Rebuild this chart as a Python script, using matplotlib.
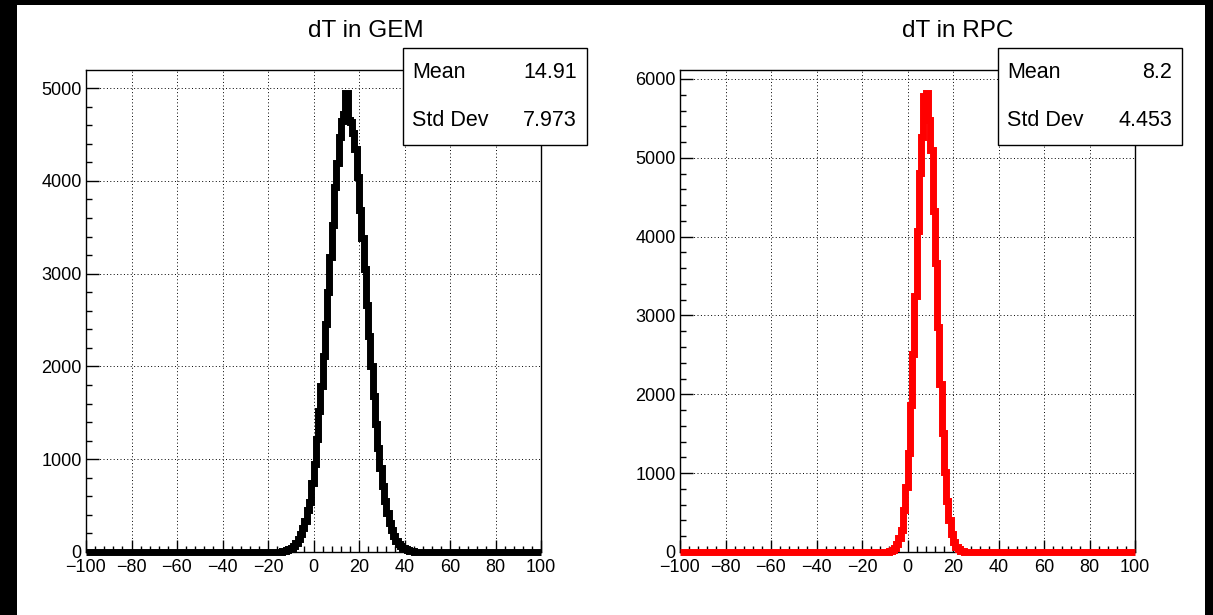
import numpy as np
import matplotlib
matplotlib.use("Agg")
import matplotlib.pyplot as plt
from matplotlib.patches import Rectangle
from matplotlib.ticker import MultipleLocator

plt.rcParams['font.family'] = ['Liberation Sans', 'DejaVu Sans']

# ---------------- data ----------------
x_range = (-100, 100)
n_bins = 200

titles = ["dT in GEM", "dT in RPC"]
colors = ["#000000", "#ff0000"]
stat_mean = ["14.91", "8.2"]
stat_std = ["7.973", "4.453"]

# GEM: counts for bins starting at -20 (each bin 1 unit wide)
gem_first_bin = -20
gem_counts = [0, 1, 1, 2, 3, 5, 8, 13, 20, 30,
              46, 64, 100, 135, 195, 260, 334, 450, 540, 748,
              946, 1220, 1520, 1790, 2110, 2460, 2800, 3180, 3520, 3930,
              4190, 4470, 4650, 4720, 4947, 4660, 4630, 4520, 4344, 4038,
              3690, 3380, 3050, 2660, 2330, 2000, 1680, 1380, 1120, 900,
              710, 550, 420, 317, 234, 171, 123, 87, 60, 41,
              28, 18, 12, 8, 5, 3, 2, 1, 1, 0]

# RPC: counts for bins starting at -11
rpc_first_bin = -11
rpc_counts = [1, 2, 5, 12, 25, 55, 99, 180, 285, 533,
              830, 1256, 1865, 2510, 3250, 4070, 4810, 5270, 5780, 5823,
              5480, 5100, 4330, 3660, 2860, 2130, 1510, 1020, 650, 400,
              232, 128, 67, 33, 16, 7, 3, 1]


def full_hist(first_bin, counts):
    edges = np.linspace(x_range[0], x_range[1], n_bins + 1)
    vals = np.zeros(n_bins)
    start = first_bin - x_range[0]
    vals[start:start + len(counts)] = counts
    return edges, vals


hists = [full_hist(gem_first_bin, gem_counts), full_hist(rpc_first_bin, rpc_counts)]

# ---------------- layout ----------------
W, H = 1213, 615
fig = plt.figure(figsize=(W / 100, H / 100), dpi=100, facecolor="black")
fig.patches.append(Rectangle((17 / W, 0), (1205 - 17) / W, (H - 5) / H,
                             transform=fig.transFigure, facecolor="white",
                             edgecolor="none", zorder=-10))


def fx(px):
    return px / W


def fy(py):
    return 1 - py / H


axes_left = [86, 680]
ax_w = 455
ax_top, ax_bot = 70, 552
title_cx = [366, 958]
box_left = [403, 998]
box_w = 184
box_top, box_bot = 48, 145

for i in range(2):
    ax = fig.add_axes([fx(axes_left[i]), fy(ax_bot), fx(ax_w), (ax_bot - ax_top) / H])
    edges, vals = hists[i]
    ax.stairs(vals, edges, color=colors[i], linewidth=5.0, clip_on=False, zorder=3)
    ax.set_xlim(*x_range)
    ax.set_ylim(0, 1.05 * max(vals))

    ax.xaxis.set_major_locator(MultipleLocator(20))
    ax.xaxis.set_minor_locator(MultipleLocator(4))
    ax.yaxis.set_major_locator(MultipleLocator(1000))
    ax.yaxis.set_minor_locator(MultipleLocator(200))
    ax.tick_params(which="both", direction="in", top=False, right=False,
                   labelsize=13, width=1, color="black")
    ax.tick_params(which="major", length=9)
    ax.tick_params(axis="x", which="major", pad=5)
    ax.tick_params(axis="y", which="major", pad=3)
    ax.tick_params(which="minor", length=4.5)
    ax.grid(True, which="major", color="black", linestyle=(0, (1, 2.5)), linewidth=0.7)
    ax.set_axisbelow(False)
    for s in ax.spines.values():
        s.set_linewidth(1.0)
        s.set_color("black")

    fig.text(fx(title_cx[i]), fy(31), titles[i], ha="center", va="center", fontsize=17.5)

    fig.patches.append(Rectangle((fx(box_left[i]), fy(box_bot)), fx(box_w),
                                 (box_bot - box_top) / H, transform=fig.transFigure,
                                 facecolor="white", edgecolor="black", linewidth=1.0,
                                 zorder=5))
    fig.text(fx(box_left[i] + 9), fy(73), "Mean", ha="left", va="center",
             fontsize=15.5, zorder=6)
    fig.text(fx(box_left[i] + box_w - 10), fy(73), stat_mean[i], ha="right",
             va="center", fontsize=15.5, zorder=6)
    fig.text(fx(box_left[i] + 9), fy(121), "Std Dev", ha="left", va="center",
             fontsize=15.5, zorder=6)
    fig.text(fx(box_left[i] + box_w - 10), fy(121), stat_std[i], ha="right",
             va="center", fontsize=15.5, zorder=6)

fig.savefig("out.png", dpi=100, facecolor=fig.get_facecolor())
